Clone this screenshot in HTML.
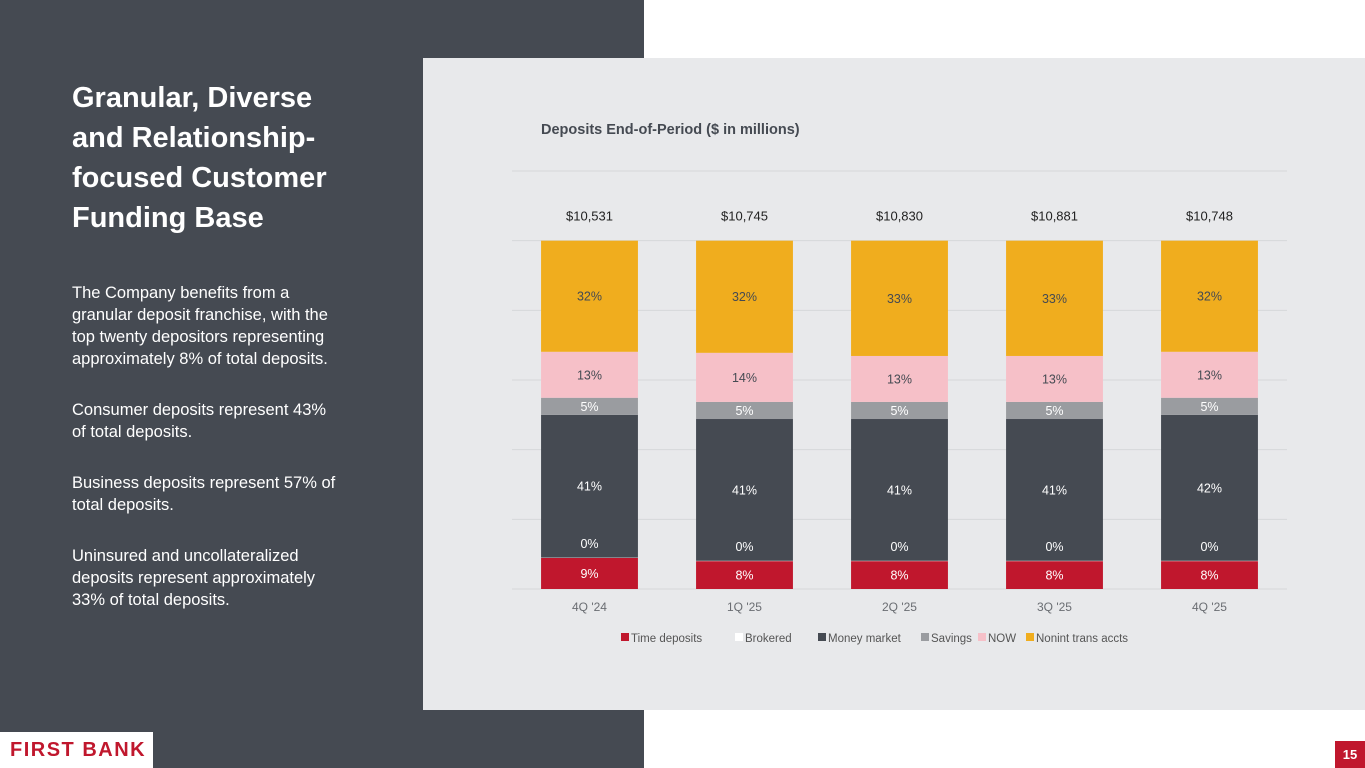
<!DOCTYPE html>
<html><head><meta charset="utf-8"><style>
body{margin:0;width:1365px;height:768px;position:relative;overflow:hidden;background:#fff;font-family:"Liberation Sans",sans-serif}
.abs{position:absolute}
.p{margin:0 0 29px 0;white-space:nowrap}
</style></head><body>
<div class="abs" style="left:0;top:0;width:644px;height:768px;background:#454a52"></div>
<div class="abs" style="left:72px;top:78px;width:280px;color:#fff;font-size:29px;font-weight:bold;line-height:40px">Granular, Diverse and Relationship-focused Customer Funding Base</div>
<div class="abs" style="left:72px;top:282px;width:300px;color:#fff;font-size:16.5px;line-height:22px">
<p class="p">The Company benefits from a<br>granular deposit franchise, with the<br>top twenty depositors representing<br>approximately 8% of total deposits.</p>
<p class="p">Consumer deposits represent 43%<br>of total deposits.</p>
<p class="p">Business deposits represent 57% of<br>total deposits.</p>
<p class="p">Uninsured and uncollateralized<br>deposits represent approximately<br>33% of total deposits.</p>
</div>
<div class="abs" style="left:0;top:732px;width:153px;height:36px;background:#fff"></div>
<div class="abs" style="left:10px;top:739px;color:#c0172d;font-size:20px;font-weight:bold;letter-spacing:1.5px">FIRST BANK</div>
<div class="abs" style="left:1335px;top:741px;width:30px;height:27px;background:#c0172d;color:#fff;font-size:13px;font-weight:bold;text-align:center;line-height:27px">15</div>
<div class="abs" style="left:423px;top:58px;width:942px;height:652px;background:#e8e9eb"></div>
<div class="abs" style="left:541px;top:122px;color:#454a52;font-size:14.5px;font-weight:bold">Deposits End-of-Period ($ in millions)</div>
<svg class="abs" id="chart" style="left:0;top:0" width="1365" height="768"></svg>
<script>
const categories=["4Q '24","1Q '25","2Q '25","3Q '25","4Q '25"];
const totals=["$10,531","$10,745","$10,830","$10,881","$10,748"];
const seriesNames=["Time deposits","Brokered","Money market","Savings","NOW","Nonint trans accts"];
const timeDeposits=[8.9,8.0,8.0,8.0,8.0];
const brokered=[0.1,0.1,0.1,0.1,0.1];
const moneyMarket=[41.0,40.7,40.7,40.7,41.9];
const savings=[4.9,4.9,4.9,4.9,4.9];
const nowAccts=[13.2,14.1,13.2,13.2,13.2];
const nonint=[31.9,32.2,33.1,33.1,31.9];
const labelsTime=["9%","8%","8%","8%","8%"];
const labelsBrokered=["0%","0%","0%","0%","0%"];
const labelsMM=["41%","41%","41%","41%","42%"];
const labelsSav=["5%","5%","5%","5%","5%"];
const labelsNow=["13%","14%","13%","13%","13%"];
const labelsNon=["32%","32%","33%","33%","32%"];
const yTicks=[0,20,40,60,80,100,120];
const colors=["#c0172d","#ffffff","#454a52","#9a9ca0","#f6c0c8","#f0ad1e"];
const series=[timeDeposits,brokered,moneyMarket,savings,nowAccts,nonint];
const labels=[labelsTime,labelsBrokered,labelsMM,labelsSav,labelsNow,labelsNon];
const textColors=["#fff","#fff","#fff","#fff","#454a52","#454a52"];
const svg=document.getElementById('chart');
const NS='http://www.w3.org/2000/svg';
const x0=512,x1=1287,y0=589,yTop=171;
const band=(x1-x0)/categories.length,bw=band*0.625;
const y=v=>y0-(v/120)*(y0-yTop);
const xc=i=>x0+band*(i+0.5);
function mk(t,a){const e=document.createElementNS(NS,t);for(const k in a)e.setAttribute(k,a[k]);svg.appendChild(e);return e;}
yTicks.forEach(t=>{const l=mk('line',{x1:x0,x2:x1,y1:y(t),y2:y(t),stroke:'#d6d7da','stroke-width':1});

});
const pending=[];
categories.forEach((c,i)=>{
 let acc=0;
 series.forEach((s,k)=>{
  const v=s[i];const top=y(acc+v),bot=y(acc);
  const r=mk('rect',{x:xc(i)-bw/2,y:top,width:bw,height:Math.max(bot-top,0),fill:colors[k]});
  
  
  let ly=(top+bot)/2+4.5;
  if(k===1) ly=y(acc)-10;
  pending.push([xc(i),ly,textColors[k],labels[k][i]]);
  acc+=v;
 });
 const tt=mk('text',{x:xc(i),y:y(acc)-20,'text-anchor':'middle','font-size':13,fill:'#222','font-family':'Liberation Sans, sans-serif'});
 tt.textContent=totals[i];
 
 
 const cl=mk('text',{x:xc(i),y:611,'text-anchor':'middle','font-size':12,fill:'#6a6d72','font-family':'Liberation Sans, sans-serif'});
 cl.textContent=c;
 
 
});
pending.forEach(p=>{
 const t=mk('text',{x:p[0],y:p[1],'text-anchor':'middle','font-size':12.5,fill:p[2],'font-family':'Liberation Sans, sans-serif'});
 t.textContent=p[3];
 
 
});
const legX=[621,735,818,921,978,1026];
seriesNames.forEach((n,k)=>{
 const r=mk('rect',{x:legX[k],y:633,width:8,height:8,fill:colors[k]});
 
 
 const t=mk('text',{x:legX[k]+10,y:642,'font-size':11.5,fill:'#555','font-family':'Liberation Sans, sans-serif'});
 t.textContent=n;
 
 
});
</script>
</body></html>
